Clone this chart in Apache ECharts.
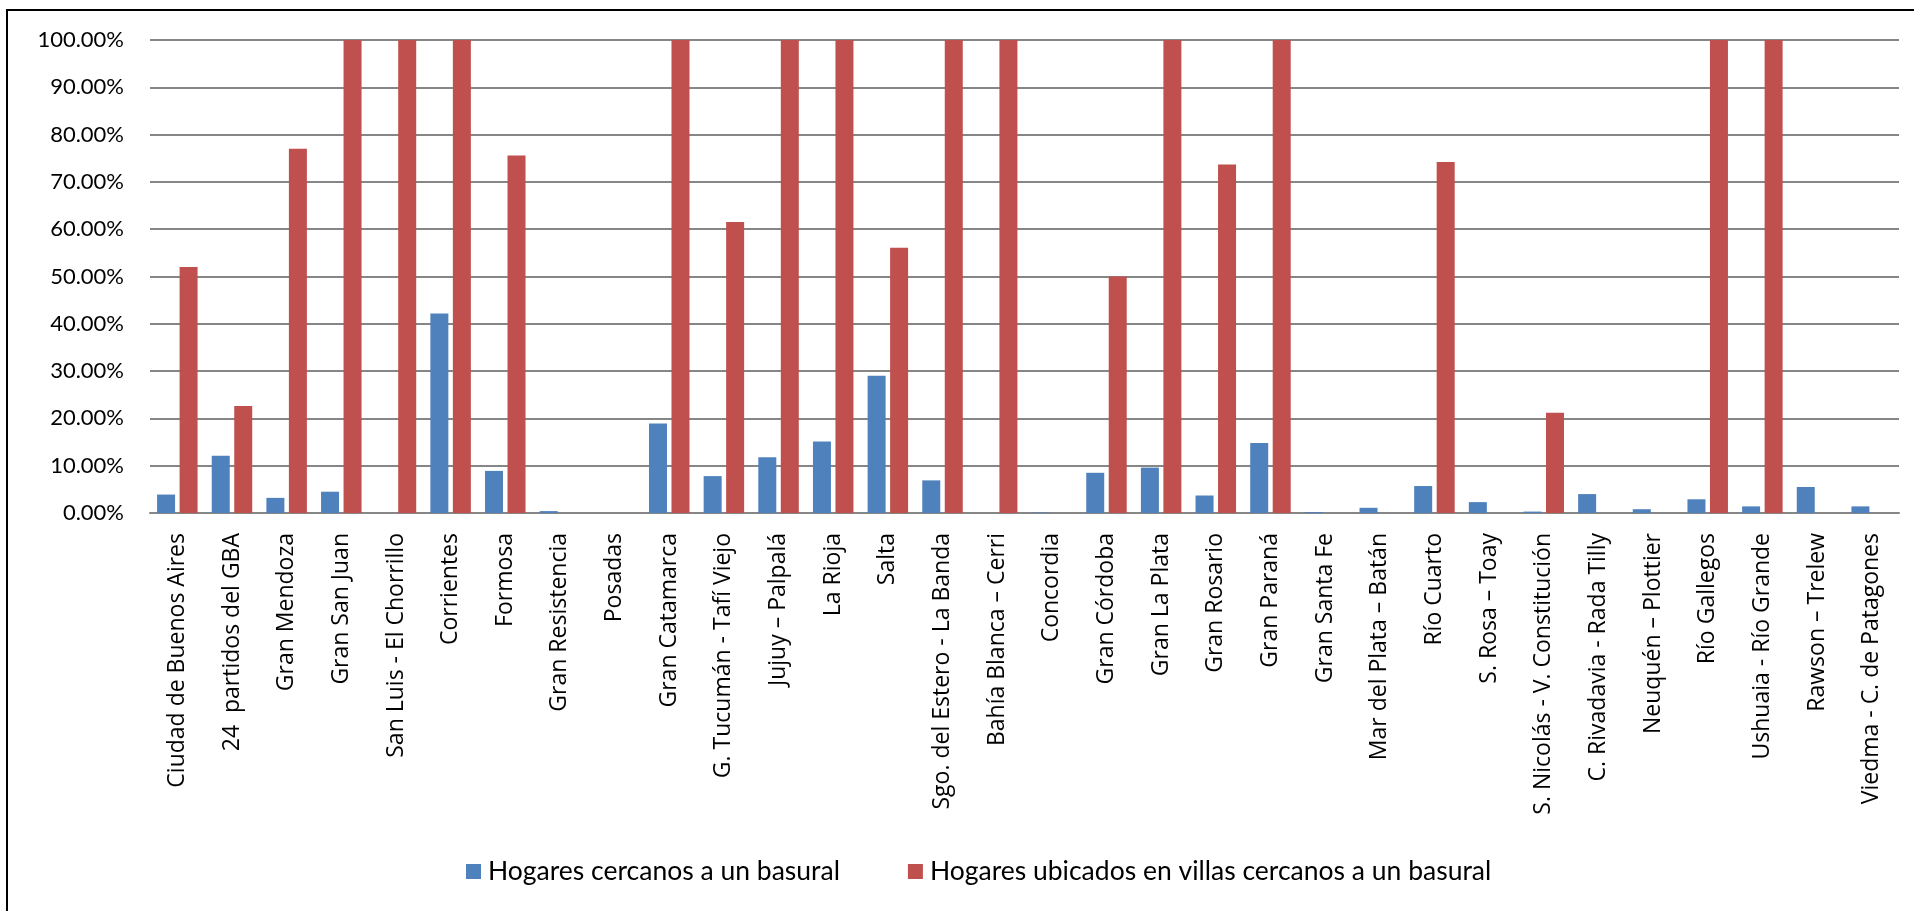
<!DOCTYPE html>
<html>
<head>
<meta charset="utf-8">
<script src="https://cdn.jsdelivr.net/npm/echarts@6/dist/echarts.min.js"></script>
<style>
  html, body { margin: 0; padding: 0; background: #ffffff; }
  #chart { width: 1914px; height: 911px; }
</style>
</head>
<body>
<div id="chart"></div>
<script>
// Aglomerados urbanos (EPH)
const categories = [
  'Ciudad de Buenos Aires', '24  partidos del GBA', 'Gran Mendoza', 'Gran San Juan',
  'San Luis - El Chorrillo', 'Corrientes', 'Formosa', 'Gran Resistencia', 'Posadas',
  'Gran Catamarca', 'G. Tucumán - Tafí Viejo', 'Jujuy – Palpalá', 'La Rioja', 'Salta',
  'Sgo. del Estero - La Banda', 'Bahía Blanca – Cerri', 'Concordia', 'Gran Córdoba',
  'Gran La Plata', 'Gran Rosario', 'Gran Paraná', 'Gran Santa Fe', 'Mar del Plata – Batán',
  'Río Cuarto', 'S. Rosa – Toay', 'S. Nicolás - V. Constitución', 'C. Rivadavia - Rada Tilly',
  'Neuquén – Plottier', 'Río Gallegos', 'Ushuaia - Río Grande', 'Rawson – Trelew',
  'Viedma - C. de Patagones'
];

// Porcentaje de hogares cercanos a un basural
const hogaresCercanos = [
  3.9, 12.1, 3.2, 4.5, 0, 42.2, 8.9, 0.4, null, 18.9, 7.8, 11.8, 15.1, 29.0, 6.9, 0,
  0.1, 8.5, 9.6, 3.7, 14.8, 0.2, 1.1, 5.7, 2.3, 0.3, 4.0, 0.8, 2.9, 1.4, 5.5, 1.4
];

// Porcentaje de hogares en villas cercanos a un basural
const hogaresVillas = [
  52.0, 22.6, 77.0, 100, 100, 100, 75.6, 0, null, 100, 61.5, 100, 100, 56.1, 100, 100,
  0, 50.0, 100, 73.7, 100, 0, 0, 74.2, 0, 21.2, 0, 0, 100, 100, 0, 0
];

const yTicks = { min: 0, max: 100, interval: 10 };

const seriesNames = [
  'Hogares cercanos a un basural',
  'Hogares ubicados en villas cercanos a un basural'
];

const chart = echarts.init(document.getElementById('chart'), null, { renderer: 'canvas' });

chart.setOption({
  animation: false,
  backgroundColor: '#ffffff',
  color: ['#4F81BD', '#C0504D'],
  grid: { left: 150, right: 15, top: 40, bottom: 398, containLabel: false },
  legend: {
    bottom: 21,
    left: 461,
    itemWidth: 15,
    itemHeight: 15,
    itemGap: 68,
    icon: 'rect',
    textStyle: { fontFamily: 'Lato', fontSize: 26.5, color: '#000000', padding: [0, 0, 0, 2] },
    data: seriesNames
  },
  xAxis: {
    type: 'category',
    data: categories,
    axisLine: { lineStyle: { color: '#868686', width: 2 } },
    axisTick: { show: false },
    axisLabel: {
      interval: 0,
      rotate: 90,
      margin: 20,
      fontFamily: 'Open Sans',
      fontSize: 23,
      color: '#000000'
    }
  },
  yAxis: {
    type: 'value',
    min: yTicks.min,
    max: yTicks.max,
    interval: yTicks.interval,
    axisLine: { show: false },
    axisTick: { show: false },
    splitLine: { lineStyle: { color: '#868686', width: 2 } },
    axisLabel: {
      margin: 26,
      fontFamily: 'Lato',
      fontSize: 22,
      color: '#000000',
      formatter: v => v.toFixed(2) + '%'
    }
  },
  series: [
    {
      name: seriesNames[0],
      type: 'bar',
      data: hogaresCercanos,
      barWidth: 18,
      barGap: '25%',
      itemStyle: { color: '#4F81BD' }
    },
    {
      name: seriesNames[1],
      type: 'bar',
      data: hogaresVillas,
      barWidth: 18,
      itemStyle: { color: '#C0504D' }
    }
  ],
  graphic: [
    {
      type: 'polyline',
      silent: true,
      shape: { points: [[7, 911], [7, 10], [1914, 10]] },
      style: { stroke: '#000000', lineWidth: 2, fill: null }
    }
  ]
});
</script>
</body>
</html>
